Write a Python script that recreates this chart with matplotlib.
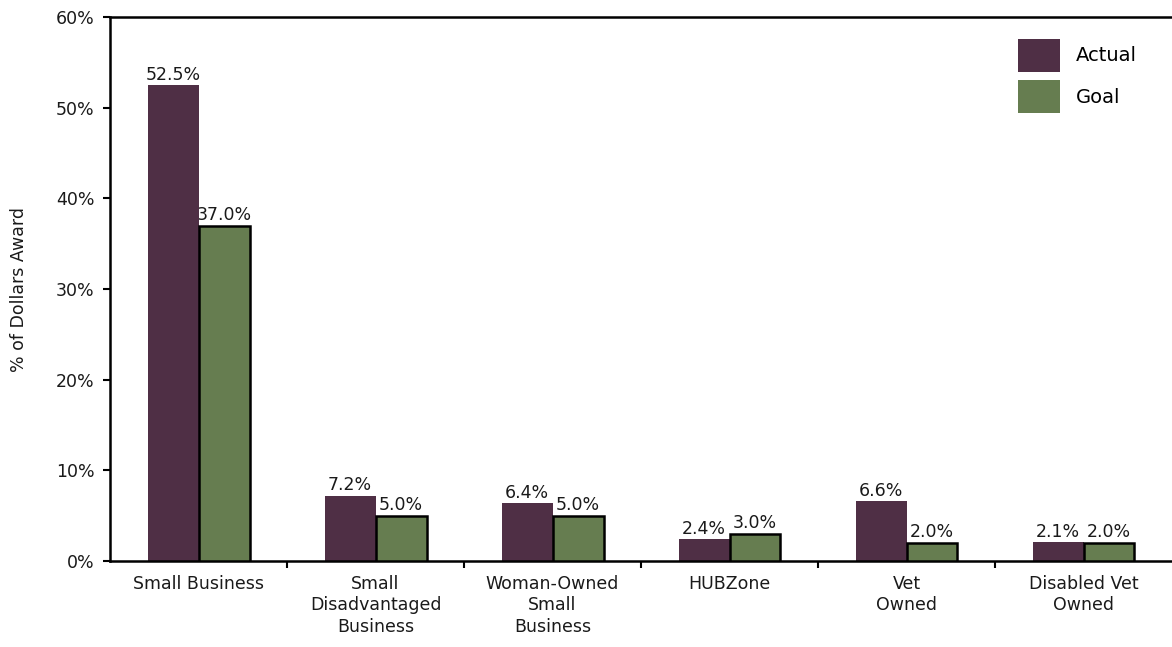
import numpy as np
import matplotlib
matplotlib.use('Agg')
import matplotlib.pyplot as plt
from matplotlib.patches import Patch
from matplotlib.ticker import FixedLocator, NullFormatter

# datos
categorias = ['Small Business', 'Small\nDisadvantaged\nBusiness', 'Woman-Owned\nSmall\nBusiness',
              'HUBZone', 'Vet\nOwned', 'Disabled Vet\nOwned']
actual = [52.5, 7.2, 6.4, 2.4, 6.6, 2.1]
goal = [37.0, 5.0, 5.0, 3.0, 2.0, 2.0]
yticks = [0, 10, 20, 30, 40, 50, 60]

COLOR_ACTUAL = '#4f2f45'
COLOR_GOAL = '#667d50'
COLOR_TEXTO = '#1a1a1a'

plt.rcParams['font.family'] = ['DejaVu Sans']

fig = plt.figure(figsize=(11.72, 6.47), dpi=100)
ax = fig.add_axes([0.0939, 0.1329, 0.9061, 0.8408])

x = np.arange(len(categorias))
w = 0.288
b1 = ax.bar(x - w/2, actual, w, color=COLOR_ACTUAL, edgecolor='none', zorder=2)
b2 = ax.bar(x + w/2, goal, w, color=COLOR_GOAL, edgecolor='black', linewidth=1.8, zorder=3)

# etiquetas de valores
for barras, vals in ((b1, actual), (b2, goal)):
    for r, v in zip(barras, vals):
        ax.annotate('{:.1f}%'.format(v), xy=(r.get_x() + r.get_width()/2, v),
                    xytext=(0, 1), textcoords='offset points',
                    ha='center', va='bottom', fontsize=12.5, color=COLOR_TEXTO, zorder=1)

ax.set_xlim(-0.5, len(categorias) - 0.5)
ax.set_ylim(0, 60)
ax.set_yticks(yticks)
ax.set_yticklabels(['{}%'.format(t) for t in yticks], fontsize=12.5, color=COLOR_TEXTO)
ax.set_xticks(x)
ax.set_xticklabels(categorias, fontsize=12.5, linespacing=1.25, color=COLOR_TEXTO)
ax.tick_params(axis='x', which='major', length=0, pad=10)
ax.xaxis.set_minor_locator(FixedLocator(x[:-1] + 0.5))
ax.xaxis.set_minor_formatter(NullFormatter())
ax.tick_params(axis='x', which='minor', length=5, width=1.5, direction='out')
ax.tick_params(axis='y', length=5, width=1.5, direction='out', pad=6)

for s in ['left', 'bottom', 'top']:
    ax.spines[s].set_linewidth(1.8)
ax.spines['right'].set_visible(False)

ax.set_ylabel('% of Dollars Award', fontsize=12.5, labelpad=20, color=COLOR_TEXTO)

# leyenda sin borde en los parches
handles = [Patch(facecolor=COLOR_ACTUAL, edgecolor='none', label='Actual'),
           Patch(facecolor=COLOR_GOAL, edgecolor='none', label='Goal')]
ax.legend(handles=handles, loc='upper left', frameon=False, fontsize=14,
          handlelength=2.15, handleheight=2.2, handletextpad=0.8, labelspacing=0.45,
          borderpad=0, borderaxespad=0, bbox_to_anchor=(0.855, 0.9596))

plt.savefig('out.png', dpi=100)
